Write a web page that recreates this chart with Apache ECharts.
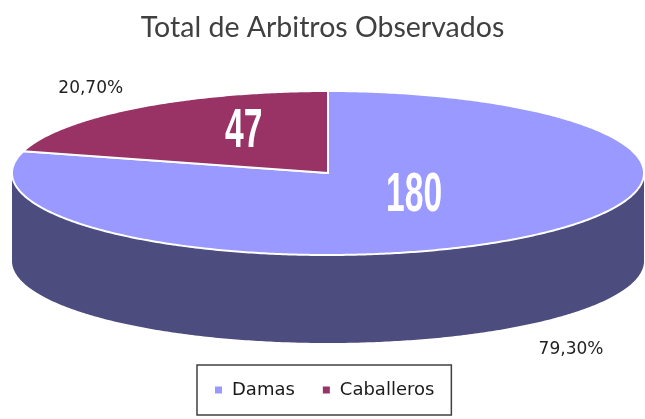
<!DOCTYPE html>
<html>
<head>
    <meta http-equiv="Content-Type" content="text/html; charset=utf-8" />
    <title>Total de Arbitros Observados</title>
    <script src="https://cdn.jsdelivr.net/npm/echarts@6/dist/echarts.min.js"></script>
</head>
<body style="margin:0;padding:0;background:#ffffff;">
    <div id="main" style="width:645px;height:419px;"></div>
    <script type="text/javascript">
        /*************************************************************
        * data
        *************************************************************/
        var names = ['Damas', 'Caballeros'];
        var values = [180, 47];

        /*************************************************************
        * style
        *************************************************************/
        var topColors = ['#9999FF', '#993366'];
        var sideColors = ['#4C4C7E', '#4D1A33'];
        // pie layout (pixels)
        var cx = 328, cy = 173, rx = 316, ry = 82, depth = 88;
        // label placement as fraction of the radii along the mid angle
        var valueLabelFrac = [[0.45, 0.34], [0.44, 0.64]];
        var pctLabelFrac = [[1.27, 2.7], [1.24, 1.30]];

        var total = 0;
        for (var k = 0; k < values.length; k++) total += values[k];

        function pt(a, dy) {
            return [cx + rx * Math.sin(a), cy - ry * Math.cos(a) + (dy || 0)];
        }

        function arc(a0, a1, dy) {
            var pts = [];
            var n = Math.max(2, Math.ceil((a1 - a0) / 0.01));
            for (var j = 0; j <= n; j++) pts.push(pt(a0 + (a1 - a0) * j / n, dy));
            return pts;
        }

        function pctText(v) {
            return (v / total * 100).toFixed(2).replace('.', ',') + '%';
        }

        function renderSlice(params, api) {
            var i = api.value(0);
            var start = 0;
            for (var s = 0; s < i; s++) start += values[s];
            var a0 = start / total * Math.PI * 2;
            var a1 = (start + values[i]) / total * Math.PI * 2;
            var mid = (a0 + a1) / 2;
            var children = [];

            // visible side: front half of the ellipse
            var s0 = Math.max(a0, Math.PI / 2), s1 = Math.min(a1, Math.PI * 3 / 2);
            if (s1 > s0) {
                var side = arc(s0, s1, 0).concat(arc(s0, s1, depth).reverse());
                children.push({
                    type: 'polygon', z2: 1,
                    shape: { points: side },
                    style: { fill: sideColors[i], stroke: null }
                });
            }

            // top face
            var face = [[cx, cy]].concat(arc(a0, a1, 0));
            children.push({
                type: 'polygon', z2: 5,
                shape: { points: face },
                style: { fill: topColors[i], stroke: '#ffffff', lineWidth: 2, lineJoin: 'miter' }
            });

            // value label inside
            var vf = valueLabelFrac[i];
            children.push({
                type: 'text', z2: 10,
                x: cx + rx * vf[0] * Math.sin(mid),
                y: cy - ry * vf[1] * Math.cos(mid),
                scaleX: 0.6,
                style: {
                    text: String(values[i]), x: 0, y: 0,
                    align: 'center', verticalAlign: 'middle',
                    fill: '#ffffff', fontSize: 56, fontWeight: 'bold',
                    fontFamily: 'Liberation Sans'
                }
            });

            // percent label outside
            var pf = pctLabelFrac[i];
            children.push({
                type: 'text', z2: 10,
                x: cx + rx * pf[0] * Math.sin(mid),
                y: cy - ry * pf[1] * Math.cos(mid),
                style: {
                    text: pctText(values[i]), x: 0, y: 0,
                    align: 'center', verticalAlign: 'middle',
                    fill: '#222222', fontSize: 17,
                    fontFamily: 'DejaVu Sans'
                }
            });

            return { type: 'group', children: children };
        }

        var seriesList = [];
        for (var m = 0; m < names.length; m++) {
            seriesList.push({
                type: 'custom',
                name: names[m],
                coordinateSystem: 'none',
                renderItem: renderSlice,
                itemStyle: { color: topColors[m] },
                data: [[m]]
            });
        }

        var chart = echarts.init(document.getElementById('main'));
        var option = {
            backgroundColor: '#ffffff',
            animation: false,
            title: {
                text: 'Total de Arbitros Observados',
                left: 'center',
                top: 8,
                textStyle: {
                    color: '#404040',
                    fontSize: 28.5,
                    fontWeight: 'normal',
                    fontFamily: 'Lato'
                }
            },
            legend: {
                data: names,
                left: 197,
                top: 365,
                orient: 'horizontal',
                icon: 'rect',
                itemWidth: 7,
                itemHeight: 7,
                itemGap: 28,
                padding: [16, 17, 16, 18],
                borderColor: '#404040',
                borderWidth: 1.5,
                borderRadius: 0,
                textStyle: {
                    color: '#1a1a1a',
                    fontSize: 18,
                    fontFamily: 'DejaVu Sans',
                    padding: [0, 0, 0, 5]
                }
            },
            series: seriesList
        };
        chart.setOption(option);
    </script>
</body>
</html>
